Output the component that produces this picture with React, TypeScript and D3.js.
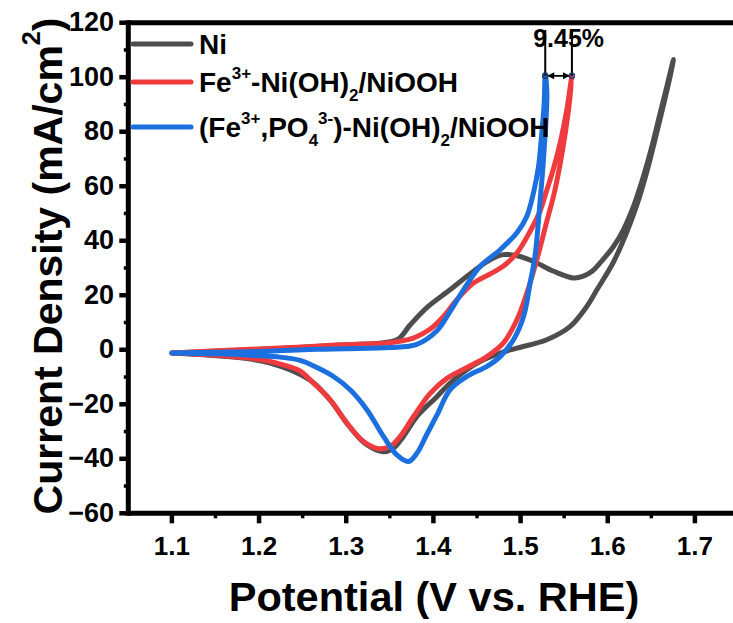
import React from "react";
import * as d3 from "d3";

const W = 733;
const H = 623;

// each CV: anodic sweep from 1.10 V up to the top, then cathodic sweep back
const niPotential = [
  1.1, 1.15, 1.19, 1.23, 1.266, 1.3, 1.343, 1.36, 1.373, 1.3925, 1.419, 1.446, 1.465, 1.48, 1.496,
  1.515, 1.538, 1.561, 1.572, 1.582, 1.591, 1.6066, 1.6181, 1.6295, 1.641, 1.6507, 1.6602, 1.6679,
  1.6754,
  1.6716, 1.6602, 1.6449, 1.6334, 1.622, 1.6066, 1.5876, 1.576, 1.557, 1.53, 1.4958, 1.4766, 1.4575,
  1.4384, 1.4193, 1.404, 1.381, 1.3657, 1.3542, 1.3427, 1.322, 1.302, 1.283, 1.262, 1.24, 1.2128,
  1.19, 1.1516, 1.1,
];
const niCurrent = [
  -1.2, -0.6, 0, 0.6, 1.2, 1.8, 2.6, 4.0, 9.0, 15.5, 22.0, 28.8, 33.0, 34.9, 34.5, 32.4, 28.8, 26.3,
  27.0, 28.8, 31.8, 37.9, 44.1, 52.6, 63.7, 74.7, 86.9, 96.7, 106.5,
  100.4, 84.9, 65.4, 53.1, 43.3, 32.2, 22.0, 15.9, 8.6, 3.7, 0.6, -1.2, -3.7, -7.3, -12.2, -17.2,
  -24.5, -31.8, -36.1, -37.4, -34.5, -27.5, -19.0, -12.0, -8.0, -4.9, -3.4, -2.2, -1.2,
];

const fePotential = [
  1.1, 1.15, 1.2, 1.25, 1.293, 1.35, 1.377, 1.396, 1.4116, 1.427, 1.446, 1.465, 1.48, 1.4958, 1.511,
  1.5225, 1.53, 1.5378, 1.5455, 1.5531, 1.5589,
  1.555, 1.5475, 1.539, 1.53, 1.5187, 1.5072, 1.4958, 1.4804, 1.4614, 1.4384, 1.4155, 1.3963,
  1.3772, 1.3619, 1.3504, 1.337, 1.3198, 1.3008, 1.2816, 1.2625, 1.246, 1.2205, 1.1975, 1.15, 1.1,
];
const feCurrent = [
  -1.2, -0.4, 0.3, 1.0, 1.8, 2.6, 4.3, 7.5, 12.2, 18.4, 24.5, 27.8, 30.6, 35.5, 43.5, 51.0, 58.5,
  66.5, 76.0, 88.2, 100.5,
  88.0, 72.0, 58.0, 47.0, 33.1, 20.8, 11.0, 2.5, -2.5, -6.5, -10.5, -16.0, -24.5, -31.8, -35.5,
  -36.3, -33.7, -26.9, -18.4, -12.2, -7.6, -4.9, -3.4, -2.0, -1.2,
];

const fePoPotential = [
  1.1, 1.15, 1.2, 1.266, 1.3, 1.35, 1.381, 1.404, 1.419, 1.4345, 1.4537, 1.4766, 1.4958, 1.5072,
  1.5148, 1.5206, 1.5245, 1.527, 1.5283,
  1.5302, 1.5263, 1.5225, 1.5168, 1.511, 1.5034, 1.4919, 1.4766, 1.4614, 1.4384, 1.419, 1.404,
  1.3925, 1.381, 1.3714, 1.3581, 1.3427, 1.3237, 1.3045, 1.2854, 1.2663, 1.2472, 1.2205, 1.19,
  1.15, 1.1,
];
const fePoCurrent = [
  -1.2, -0.9, -0.6, 0.2, 0.4, 0.8, 2.0, 7.0, 14.0, 22.0, 30.6, 36.7, 42.9, 49.0, 57.6, 67.3, 80.0,
  90.0, 101.0,
  94.0, 70.0, 55.0, 35.0, 24.5, 12.2, 3.7, -2.5, -6.1, -9.8, -14.7, -24.0, -31.0, -38.0, -41.0,
  -38.6, -31.8, -22.0, -14.7, -9.8, -6.5, -3.9, -2.6, -2.0, -1.5, -1.2,
];

const xTicks = [1.1, 1.2, 1.3, 1.4, 1.5, 1.6, 1.7];
const xMinorTicks = [1.15, 1.25, 1.35, 1.45, 1.55, 1.65, 1.75];
const yTicks = [-60, -40, -20, 0, 20, 40, 60, 80, 100, 120];
const yMinorTicks = [-50, -30, -10, 10, 30, 50, 70, 90, 110];
const gapLabel = "9.45%";
const gapCurrent = 100.5;

const FONT = "'Liberation Sans', Arial, Helvetica, sans-serif";

const series = [
  { key: "ni", color: "#4d4d4d", v: niPotential, j: niCurrent },
  { key: "fe", color: "#ef3b3e", v: fePotential, j: feCurrent },
  { key: "fepo", color: "#1c6fdf", v: fePoPotential, j: fePoCurrent },
];

export default function App() {
  const x = d3.scaleLinear().domain([1.05, 1.75]).range([128.3, 738.5]);
  const y = d3.scaleLinear().domain([-60, 120]).range([513.3, 22.7]);

  const line = d3
    .line<[number, number]>()
    .x((d) => x(d[0]))
    .y((d) => y(d[1]))
    .curve(d3.curveCatmullRom.alpha(0.5));

  const x0 = x(1.05);
  const yb = y(-60);
  const yt = y(120);

  // ends of the two anodic sweeps, where the 9.45 % gap is marked
  const topOf = (v: number[], j: number[]) => v[j.indexOf(Math.max(...j))];
  const xa = x(topOf(fePoPotential, fePoCurrent));
  const xb = x(topOf(fePotential, feCurrent));
  const ya = y(gapCurrent);

  const legendY = [44, 82, 127];

  return (
    <svg
      width={W}
      height={H}
      style={{ position: "absolute", left: 0, top: 0, background: "#fff" }}
      fontFamily={FONT}
      fontWeight="bold"
    >
      {/* curves */}
      {series.map((s) => (
        <path
          key={s.key}
          d={line(s.v.map((v, i) => [v, s.j[i]] as [number, number])) || ""}
          fill="none"
          stroke={s.color}
          strokeWidth={5}
          strokeLinejoin="round"
          strokeLinecap="round"
        />
      ))}

      {/* frame */}
      <line x1={x0} x2={W + 10} y1={yt} y2={yt} stroke="#000" strokeWidth={5} />
      <line x1={x0} x2={W + 10} y1={yb} y2={yb} stroke="#000" strokeWidth={5} />
      <line x1={x0} x2={x0} y1={yt - 2.5} y2={yb + 2.5} stroke="#000" strokeWidth={5} />

      {/* y ticks */}
      {yTicks.map((t) => (
        <g key={"yt" + t}>
          <line x1={x0 - 9} x2={x0} y1={y(t)} y2={y(t)} stroke="#000" strokeWidth={4.5} />
          <text x={114} y={y(t) + 8.5} textAnchor="end" fontSize={27}>
            {t < 0 ? "\u2212" + Math.abs(t) : t}
          </text>
        </g>
      ))}
      {yMinorTicks.map((t) => (
        <line key={"ym" + t} x1={x0 - 4.5} x2={x0} y1={y(t)} y2={y(t)} stroke="#000" strokeWidth={3.5} />
      ))}

      {/* x ticks */}
      {xTicks.map((t) => (
        <g key={"xt" + t}>
          <line x1={x(t)} x2={x(t)} y1={yb} y2={yb + 10} stroke="#000" strokeWidth={4.5} />
          <text x={x(t)} y={555} textAnchor="middle" fontSize={26}>
            {t.toFixed(1)}
          </text>
        </g>
      ))}
      {xMinorTicks.map((t) => (
        <line key={"xm" + t} x1={x(t)} x2={x(t)} y1={yb} y2={yb + 5} stroke="#000" strokeWidth={3.5} />
      ))}

      {/* axis titles */}
      <text x={434} y={611} textAnchor="middle" fontSize={41.5}>
        Potential (V vs. RHE)
      </text>
      <text transform="translate(62,266) rotate(-90)" textAnchor="middle" fontSize={41}>
        Current Density (mA/cm
        <tspan fontSize={25} dy={-22}>2</tspan>
        <tspan dy={22}>)</tspan>
      </text>

      {/* legend */}
      {series.map((s, i) => (
        <line
          key={"lg" + s.key}
          x1={133}
          x2={191}
          y1={legendY[i]}
          y2={legendY[i]}
          stroke={s.color}
          strokeWidth={5}
          strokeLinecap="round"
        />
      ))}
      <text x={199} y={legendY[0] + 9.5} fontSize={28}>
        Ni
      </text>
      <text x={199} y={legendY[1] + 9.5} fontSize={28}>
        Fe
        <tspan fontSize={17} dy={-13}>3+</tspan>
        <tspan dy={13}>-Ni(OH)</tspan>
        <tspan fontSize={17} dy={9}>2</tspan>
        <tspan dy={-9}>/NiOOH</tspan>
      </text>
      <text x={199} y={legendY[2] + 9.5} fontSize={28}>
        (Fe
        <tspan fontSize={17} dy={-13}>3+</tspan>
        <tspan dy={13}>,PO</tspan>
        <tspan fontSize={17} dy={9}>4</tspan>
        <tspan fontSize={17} dy={-22}>3-</tspan>
        <tspan dy={13}>)-Ni(OH)</tspan>
        <tspan fontSize={17} dy={9}>2</tspan>
        <tspan dy={-9}>/NiOOH</tspan>
      </text>

      {/* 9.45 % gap marker */}
      <line x1={xa} x2={xa} y1={30} y2={ya} stroke="#000" strokeWidth={2} />
      <line x1={xb} x2={xb} y1={30} y2={ya} stroke="#000" strokeWidth={2} />
      <line x1={xa + 3} x2={xb - 3} y1={ya} y2={ya} stroke="#000" strokeWidth={1.8} />
      <path d={`M${xa + 2},${ya} l7,-3.5 l0,7 z`} fill="#000" />
      <path d={`M${xb - 2},${ya} l-7,-3.5 l0,7 z`} fill="#000" />
      <circle cx={xa} cy={ya} r={2.5} fill="none" stroke="#1f3b6b" strokeWidth={1.5} />
      <circle cx={xb} cy={ya} r={2.5} fill="none" stroke="#1f3b6b" strokeWidth={1.5} />
      <text x={(xa + xb) / 2 + 10} y={47} textAnchor="middle" fontSize={25}>
        {gapLabel}
      </text>
    </svg>
  );
}
